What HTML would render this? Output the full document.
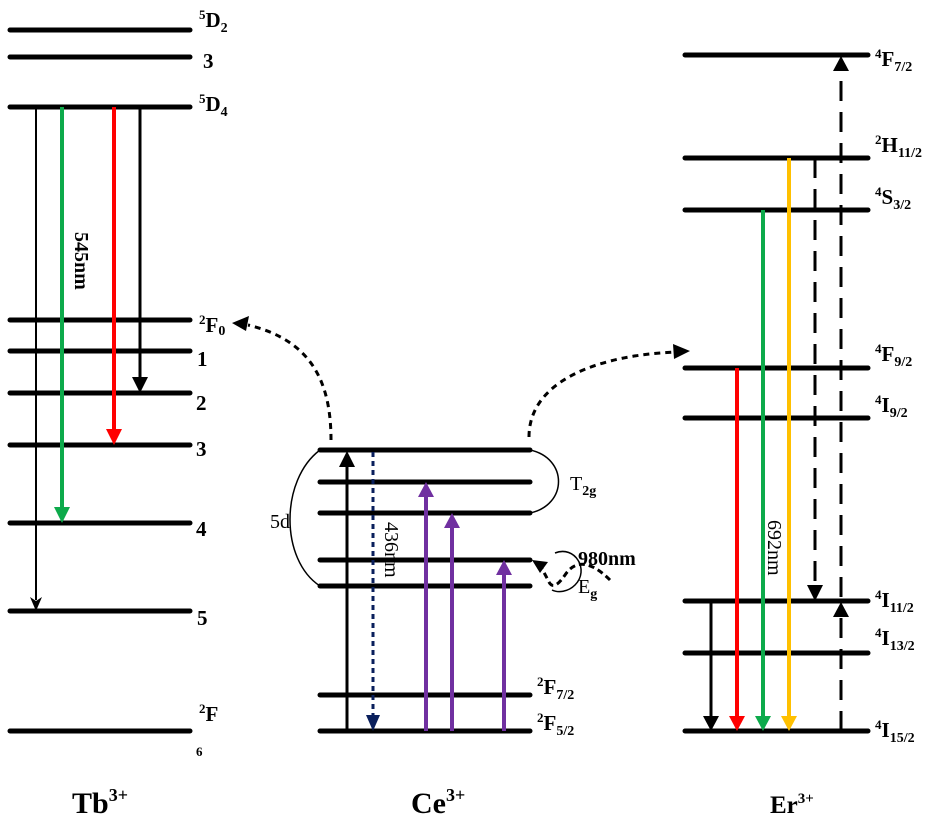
<!DOCTYPE html>
<html><head><meta charset="utf-8"><style>
html,body{margin:0;padding:0;background:#fff;width:940px;height:821px;overflow:hidden}
svg{display:block}
text{font-family:"Liberation Serif",serif;font-weight:bold;fill:#000}
.n{font-weight:normal}
</style></head><body>
<svg width="940" height="821" viewBox="0 0 940 821" xmlns="http://www.w3.org/2000/svg">
<g stroke="#000" stroke-width="5" stroke-linecap="round">
<line x1="10" y1="30" x2="190" y2="30"/><line x1="10" y1="57" x2="190" y2="57"/>
<line x1="10" y1="107" x2="190" y2="107"/><line x1="10" y1="320" x2="190" y2="320"/>
<line x1="10" y1="351" x2="190" y2="351"/><line x1="10" y1="393" x2="190" y2="393"/>
<line x1="10" y1="445" x2="190" y2="445"/><line x1="10" y1="523" x2="190" y2="523"/>
<line x1="10" y1="611" x2="190" y2="611"/><line x1="10" y1="731" x2="190" y2="731"/>
<line x1="320" y1="450" x2="530" y2="450"/><line x1="320" y1="482" x2="530" y2="482"/>
<line x1="320" y1="513" x2="530" y2="513"/><line x1="320" y1="560" x2="530" y2="560"/>
<line x1="320" y1="586" x2="530" y2="586"/><line x1="320" y1="695" x2="530" y2="695"/>
<line x1="320" y1="731" x2="530" y2="731"/>
<line x1="685" y1="55" x2="868" y2="55"/><line x1="685" y1="158" x2="868" y2="158"/>
<line x1="685" y1="210" x2="868" y2="210"/><line x1="685" y1="368" x2="868" y2="368"/>
<line x1="685" y1="418" x2="868" y2="418"/><line x1="685" y1="601" x2="868" y2="601"/>
<line x1="685" y1="653" x2="868" y2="653"/><line x1="685" y1="731" x2="868" y2="731"/>
</g>
<line x1="36" y1="107" x2="36" y2="600" stroke="#000" stroke-width="2"/>
<path d="M30,597 L36,611 L42,597 L36,601Z"/>
<line x1="62" y1="107" x2="62" y2="510" stroke="#0daa4b" stroke-width="4"/>
<path d="M54,507 L62,523 L70,507Z" fill="#0daa4b"/>
<line x1="114" y1="107" x2="114" y2="432" stroke="#f00" stroke-width="4"/>
<path d="M106,429 L114,445 L122,429Z" fill="#f00"/>
<line x1="140" y1="107" x2="140" y2="380" stroke="#000" stroke-width="3"/>
<path d="M132,377 L140,393 L148,377Z"/>
<text transform="translate(75,232) rotate(90)" font-size="20">545nm</text>
<text x="199" y="27" font-size="21"><tspan font-size="13" dy="-8">5</tspan><tspan dy="8">D</tspan><tspan font-size="14" dy="5">2</tspan></text>
<text x="203" y="68" font-size="21">3</text>
<text x="199" y="111" font-size="21"><tspan font-size="13" dy="-8">5</tspan><tspan dy="8">D</tspan><tspan font-size="14" dy="5">4</tspan></text>
<text x="199" y="332" font-size="21"><tspan font-size="13" dy="-8">2</tspan><tspan dy="8">F</tspan><tspan font-size="14" dy="3">0</tspan></text>
<text x="197" y="366" font-size="21">1</text>
<text x="196" y="410" font-size="21">2</text>
<text x="196" y="456" font-size="21">3</text>
<text x="196" y="536" font-size="21">4</text>
<text x="197" y="625" font-size="21">5</text>
<text x="199" y="721" font-size="21"><tspan font-size="13" dy="-8">2</tspan><tspan dy="8">F</tspan></text>
<text x="196" y="756" font-size="13">6</text>
<line x1="347" y1="731" x2="347" y2="462" stroke="#000" stroke-width="3"/>
<path d="M339,467 L347,451 L355,467Z"/>
<line x1="373" y1="452" x2="373" y2="716" stroke="#0a1f5c" stroke-width="3" stroke-dasharray="5,4"/>
<path d="M366,715 L373,731 L380,715Z" fill="#0a1f5c"/>
<g stroke="#7030a0" stroke-width="4">
<line x1="426" y1="731" x2="426" y2="495"/><line x1="452" y1="731" x2="452" y2="526"/><line x1="504" y1="731" x2="504" y2="573"/>
</g>
<g fill="#7030a0"><path d="M418,497 L426,482 L434,497Z"/><path d="M444,528 L452,513 L460,528Z"/><path d="M496,575 L504,560 L512,575Z"/></g>
<text transform="translate(385,522) rotate(90)" font-size="20" class="n">436nm</text>
<path d="M320,450 C280,480 280,560 320,586" fill="none" stroke="#000" stroke-width="1.5"/>
<path d="M530,450 C568,458 568,505 530,513" fill="none" stroke="#000" stroke-width="1.5"/>
<text x="270" y="528" font-size="20" class="n">5d</text>
<text x="570" y="490" font-size="20" class="n">T<tspan font-size="14" dy="5" style="font-weight:bold">2g</tspan></text>
<text x="578" y="565" font-size="20">980nm</text>
<text x="578" y="593" font-size="20" class="n">E<tspan font-size="14" dy="5" style="font-weight:bold">g</tspan></text>
<path d="M555,553 C575,545 590,570 575,585 C568,592 558,593 552,590" fill="none" stroke="#000" stroke-width="1.5"/>
<path d="M610,580 C590,560 575,560 565,575 C558,585 552,590 548,580 L540,565" fill="none" stroke="#000" stroke-width="3" stroke-dasharray="6,4"/>
<path d="M532,560 L548,562 L540,573Z"/>
<path d="M331,440 C331,380 310,340 248,325" fill="none" stroke="#000" stroke-width="3" stroke-dasharray="6,5"/>
<path d="M232,323 L249,316 L246,331Z"/>
<path d="M529,437 C529,380 600,355 676,352" fill="none" stroke="#000" stroke-width="3" stroke-dasharray="6,5"/>
<path d="M690,351 L673,344 L674,359Z"/>
<line x1="711" y1="601" x2="711" y2="718" stroke="#000" stroke-width="3"/>
<path d="M703,716 L711,731 L719,716Z"/>
<line x1="737" y1="368" x2="737" y2="718" stroke="#f00" stroke-width="4"/>
<path d="M729,716 L737,731 L745,716Z" fill="#f00"/>
<line x1="763" y1="210" x2="763" y2="718" stroke="#0daa4b" stroke-width="4"/>
<path d="M755,716 L763,731 L771,716Z" fill="#0daa4b"/>
<line x1="789" y1="158" x2="789" y2="718" stroke="#ffc000" stroke-width="4"/>
<path d="M781,716 L789,731 L797,716Z" fill="#ffc000"/>
<line x1="815" y1="158" x2="815" y2="588" stroke="#000" stroke-width="3" stroke-dasharray="20,11"/>
<path d="M807,585 L815,601 L823,585Z"/>
<line x1="841" y1="731" x2="841" y2="614" stroke="#000" stroke-width="3" stroke-dasharray="20,11"/>
<path d="M833,617 L841,602 L849,617Z"/>
<line x1="841" y1="597" x2="841" y2="68" stroke="#000" stroke-width="3" stroke-dasharray="20,11"/>
<path d="M833,71 L841,56 L849,71Z"/>
<text transform="translate(768,520) rotate(90)" font-size="20" class="n">692nm</text>
<text x="875" y="66" font-size="21"><tspan font-size="13" dy="-8">4</tspan><tspan dy="8">F</tspan><tspan font-size="14" dy="5">7/2</tspan></text>
<text x="875" y="152" font-size="21"><tspan font-size="13" dy="-8">2</tspan><tspan dy="8">H</tspan><tspan font-size="14" dy="5">11/2</tspan></text>
<text x="875" y="204" font-size="21"><tspan font-size="13" dy="-8">4</tspan><tspan dy="8">S</tspan><tspan font-size="14" dy="5">3/2</tspan></text>
<text x="875" y="361" font-size="21"><tspan font-size="13" dy="-8">4</tspan><tspan dy="8">F</tspan><tspan font-size="14" dy="5">9/2</tspan></text>
<text x="875" y="412" font-size="21"><tspan font-size="13" dy="-8">4</tspan><tspan dy="8">I</tspan><tspan font-size="14" dy="5">9/2</tspan></text>
<text x="875" y="607" font-size="21"><tspan font-size="13" dy="-8">4</tspan><tspan dy="8">I</tspan><tspan font-size="14" dy="5">11/2</tspan></text>
<text x="875" y="645" font-size="21"><tspan font-size="13" dy="-8">4</tspan><tspan dy="8">I</tspan><tspan font-size="14" dy="5">13/2</tspan></text>
<text x="875" y="737" font-size="21"><tspan font-size="13" dy="-8">4</tspan><tspan dy="8">I</tspan><tspan font-size="14" dy="5">15/2</tspan></text>
<text x="537" y="694" font-size="21"><tspan font-size="13" dy="-8">2</tspan><tspan dy="8">F</tspan><tspan font-size="14" dy="5">7/2</tspan></text>
<text x="537" y="730" font-size="21"><tspan font-size="13" dy="-8">2</tspan><tspan dy="8">F</tspan><tspan font-size="14" dy="5">5/2</tspan></text>
<text x="72" y="813" font-size="30">Tb<tspan font-size="18" dy="-12">3+</tspan></text>
<text x="411" y="813" font-size="30">Ce<tspan font-size="18" dy="-12">3+</tspan></text>
<text x="770" y="813" font-size="25">Er<tspan font-size="15" dy="-10">3+</tspan></text>
</svg>
</body></html>
